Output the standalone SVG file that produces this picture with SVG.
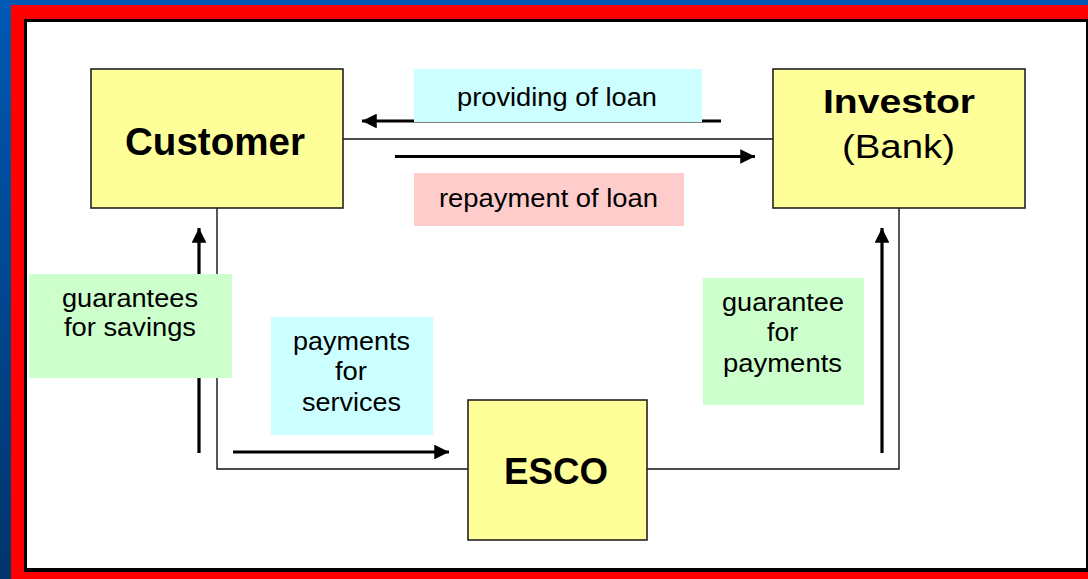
<svg xmlns="http://www.w3.org/2000/svg" width="1088" height="579" viewBox="0 0 1088 579">
<defs>
<linearGradient id="bg" x1="0" y1="0" x2="0" y2="1">
<stop offset="0" stop-color="#0059B3"/>
<stop offset="1" stop-color="#00356B"/>
</linearGradient>
<marker id="ah" viewBox="0 0 10 10" refX="10" refY="5" markerWidth="6.5" markerHeight="4.6" markerUnits="strokeWidth" orient="auto">
<path d="M0,0 L10,5 L0,10 Z" fill="#000"/>
</marker>
<style>
.box{fill:#FFFF99;stroke:#222;stroke-width:1.6}
.thin{fill:none;stroke:#111;stroke-width:1.4}
.arr{fill:none;stroke:#000;stroke-width:3.2;marker-end:url(#ah)}
text{font-family:"Liberation Sans",Arial,sans-serif;fill:#000;text-anchor:middle}
.b{font-weight:bold}
.lbl{font-size:25px}
</style>
</defs>
<rect x="0" y="0" width="1088" height="579" fill="url(#bg)"/>
<rect x="11" y="5" width="1077" height="574" fill="#FF0000"/>
<rect x="24" y="19" width="1064" height="553" fill="#000"/>
<rect x="27" y="22" width="1059" height="546" fill="#FFFFFF"/>

<g id="connectors">
<line class="thin" x1="343" y1="139" x2="773" y2="139"/>
<polyline class="thin" points="217,208 217,469 469,469"/>
<polyline class="thin" points="647,469 899,469 899,208"/>
<line class="arr" x1="721" y1="121" x2="362" y2="121"/>
<line class="arr" x1="395" y1="156.5" x2="755" y2="156.5"/>
<line class="arr" x1="199" y1="453" x2="199" y2="228"/>
<line class="arr" x1="233" y1="452" x2="449" y2="452"/>
<line class="arr" x1="882" y1="453" x2="882" y2="228"/>
</g>

<g id="label-providing">
<rect x="414" y="69" width="288" height="53" fill="#CCFFFF"/>
<text class="lbl" x="557" y="106" font-size="26" textLength="200" lengthAdjust="spacingAndGlyphs">providing of loan</text>
</g>
<g id="label-repayment">
<rect x="414" y="173" width="270" height="53" fill="#FFCCCC"/>
<text class="lbl" x="548.5" y="207" font-size="26" textLength="219" lengthAdjust="spacingAndGlyphs">repayment of loan</text>
</g>
<g id="label-guarantees-savings">
<rect x="29" y="274" width="203" height="104" fill="#CCFFCC"/>
<text class="lbl" x="130" y="307" textLength="136" lengthAdjust="spacingAndGlyphs">guarantees</text>
<text class="lbl" x="130" y="336" textLength="132" lengthAdjust="spacingAndGlyphs">for savings</text>
</g>
<g id="label-payments-services">
<rect x="271" y="317" width="162" height="118" fill="#CCFFFF"/>
<text class="lbl" x="351.5" y="350" textLength="117" lengthAdjust="spacingAndGlyphs">payments</text>
<text class="lbl" x="351" y="380" textLength="32" lengthAdjust="spacingAndGlyphs">for</text>
<text class="lbl" x="351.5" y="411" textLength="99" lengthAdjust="spacingAndGlyphs">services</text>
</g>
<g id="label-guarantee-payments">
<rect x="703" y="278" width="161" height="127" fill="#CCFFCC"/>
<text class="lbl" x="783" y="311" textLength="122" lengthAdjust="spacingAndGlyphs">guarantee</text>
<text class="lbl" x="782.5" y="341" textLength="31" lengthAdjust="spacingAndGlyphs">for</text>
<text class="lbl" x="782.5" y="372" textLength="119" lengthAdjust="spacingAndGlyphs">payments</text>
</g>

<g id="node-customer">
<rect class="box" x="91" y="69" width="252" height="139"/>
<text class="b" x="215" y="155" font-size="38" textLength="180" lengthAdjust="spacingAndGlyphs">Customer</text>
</g>
<g id="node-investor">
<rect class="box" x="773" y="69" width="252" height="139"/>
<text class="b" x="899" y="112.5" font-size="34" textLength="152" lengthAdjust="spacingAndGlyphs">Investor</text>
<text x="898.5" y="158" font-size="33" textLength="113" lengthAdjust="spacingAndGlyphs">(Bank)</text>
</g>
<g id="node-esco">
<rect class="box" x="468" y="400" width="179" height="140"/>
<text class="b" x="556" y="484" font-size="36" textLength="104" lengthAdjust="spacingAndGlyphs">ESCO</text>
</g>
</svg>
